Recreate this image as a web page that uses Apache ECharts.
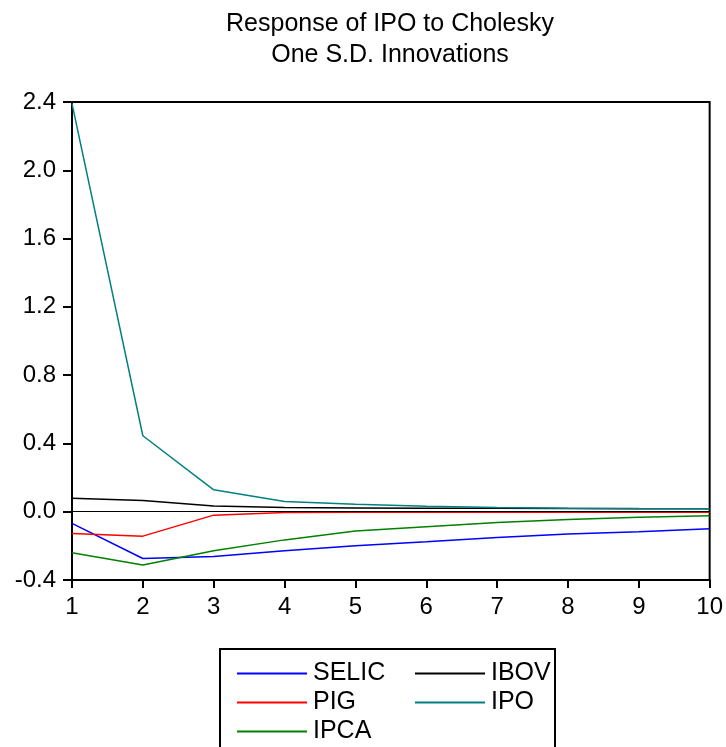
<!DOCTYPE html>
<html><head><meta charset="utf-8">
<script src="https://cdn.jsdelivr.net/npm/echarts@6/dist/echarts.min.js"></script>
<style>html,body{margin:0;padding:0;background:#fff}#c{width:726px;height:747px}</style>
</head><body><div id="c"></div>
<script>
const periods = [1,2,3,4,5,6,7,8,9,10];
const SELIC = [-0.068,-0.274,-0.262,-0.229,-0.200,-0.176,-0.151,-0.131,-0.118,-0.100];
const PIG   = [-0.127,-0.143,-0.020,-0.004,-0.003,-0.003,-0.003,-0.003,-0.003,-0.003];
const IPCA  = [-0.241,-0.312,-0.229,-0.165,-0.113,-0.088,-0.063,-0.045,-0.032,-0.023];
const IBOV  = [0.079,0.065,0.034,0.024,0.022,0.021,0.020,0.019,0.018,0.017];
const IPO   = [2.39,0.445,0.128,0.060,0.043,0.032,0.025,0.021,0.019,0.018];
const yTicks = {min:-0.4, max:2.4, step:0.4};
const titleText = "Response of IPO to Cholesky\nOne S.D. Innovations";

const FONT = "'Liberation Sans', Arial, sans-serif";
const pairs = a => a.map((v,i)=>[periods[i], v]);
const mk = (name, data, color) => ({
  name, type:'line', data: pairs(data), symbol:'none', silent:true,
  lineStyle:{color, width:1.5}, itemStyle:{color}, animation:false
});
const series = [
  mk('SELIC', SELIC, '#0000ff'),
  mk('PIG', PIG, '#ff0000'),
  mk('IPCA', IPCA, '#008000'),
  mk('IBOV', IBOV, '#000000'),
  mk('IPO', IPO, '#008080')
];
series[0].markLine = {silent:true, symbol:'none', label:{show:false}, animation:false,
  lineStyle:{color:'#000', width:1.2, type:'solid'}, data:[{yAxis:0}]};

const chart = echarts.init(document.getElementById('c'), null, {renderer:'canvas'});
const legendCommon = {
  orient:'vertical', itemWidth:70, itemHeight:2, icon:'rect', itemGap:4, height:200,
  textStyle:{fontFamily:FONT, fontSize:25, lineHeight:25, color:'#000', padding:[0,0,0,1]},
  selectedMode:false
};
chart.setOption({
  animation:false,
  title:{text:titleText, left:385, textAlign:'center', top:3,
    textStyle:{fontFamily:FONT, fontSize:25, fontWeight:'normal', color:'#000', lineHeight:31.5}},
  grid:{left:72, right:15, top:102, bottom:167, show:true, borderColor:'#000', borderWidth:2, backgroundColor:'#fff'},
  xAxis:{type:'value', min:1, max:10, interval:1,
    axisLine:{onZero:false, lineStyle:{color:'#000', width:2}},
    axisTick:{show:true, length:8, lineStyle:{color:'#000', width:2}},
    axisLabel:{fontFamily:FONT, fontSize:24, color:'#000', margin:15},
    splitLine:{show:false}},
  yAxis:{type:'value', min:yTicks.min, max:yTicks.max, interval:yTicks.step,
    axisLine:{show:true, onZero:false, lineStyle:{color:'#000', width:2}},
    axisTick:{show:true, length:9, lineStyle:{color:'#000', width:2}},
    axisLabel:{fontFamily:FONT, fontSize:24, color:'#000', margin:16,
      formatter:v=>v.toFixed(1)},
    splitLine:{show:false}},
  legend:[
    Object.assign({}, legendCommon, {data:['SELIC','PIG','IPCA'], left:232, top:656}),
    Object.assign({}, legendCommon, {data:['IBOV','IPO'], left:410, top:656})
  ],
  graphic:[{type:'rect', shape:{x:220, y:649, width:335, height:110},
    style:{fill:'none', stroke:'#000', lineWidth:2}, silent:true}],
  series
});
</script></body></html>
